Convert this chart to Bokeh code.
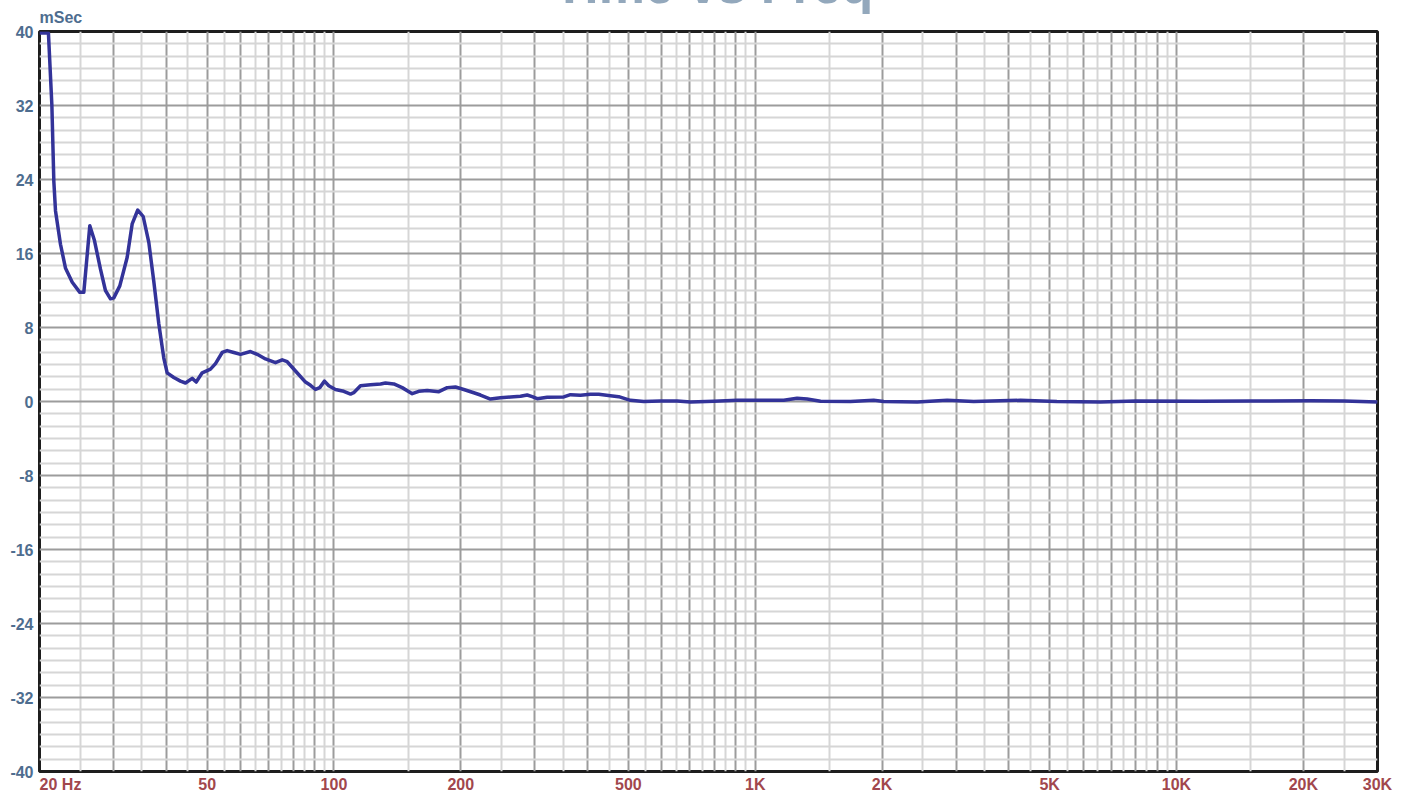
from bokeh.plotting import figure
from bokeh.models import FixedTicker, Range1d, Title
from bokeh.embed import file_html
from bokeh.resources import INLINE

# ---- data (frequency in Hz, group delay in mSec) ----
freq_hz = [20.0, 21.0, 21.4, 21.63, 21.83, 22.43, 23.06, 23.92, 24.93, 25.48,
           26.33, 27.01, 27.91, 28.68, 29.48, 30.02, 31.02, 32.30, 33.19, 34.22,
           35.25, 36.35, 37.35, 38.39, 39.45, 40.19, 41.67, 43.22, 44.42, 46.08,
           47.10, 48.67, 50.92, 52.34, 54.29, 55.79, 57.84, 60.0, 63.36, 65.73,
           68.78, 72.64, 75.36, 77.44, 81.04, 85.59, 87.96, 90.39, 92.54, 94.95,
           97.21, 100.8, 105.5, 109.5, 111.4, 115.6, 122.1, 129.0, 132.5, 138.7,
           145.2, 153.4, 159.0, 166.5, 177.4, 185.7, 194.3, 203.3, 214.7, 222.7,
           235.2, 248.5, 262.4, 277.2, 287.5, 295.5, 303.7, 320.7, 351.2, 364.3,
           384.7, 406.3, 425.2, 453.2, 474.2, 505.5, 543.7, 595.7, 652.7, 702.0,
           797.2, 906.0, 1169, 1257, 1328, 1429, 1683, 1911, 2019, 2423,
           2855, 3300, 4262, 5200, 6598, 8000, 11398, 15000, 20788, 25000, 30000]
delay_ms = [39.85, 39.85, 32.0, 23.8, 20.6, 17.0, 14.4, 12.9, 11.8, 11.8,
            19.0, 17.4, 14.3, 12.0, 11.1, 11.2, 12.5, 15.6, 19.2, 20.7,
            20.0, 17.2, 13.0, 8.4, 4.7, 3.1, 2.6, 2.2, 2.0, 2.5,
            2.1, 3.1, 3.5, 4.1, 5.3, 5.5, 5.3, 5.1, 5.4, 5.1,
            4.6, 4.2, 4.5, 4.3, 3.3, 2.1, 1.75, 1.3, 1.5, 2.2,
            1.7, 1.3, 1.1, 0.8, 0.95, 1.7, 1.8, 1.9, 2.0, 1.9,
            1.5, 0.85, 1.1, 1.2, 1.06, 1.5, 1.57, 1.3, 0.95, 0.7,
            0.27, 0.41, 0.49, 0.56, 0.7, 0.52, 0.3, 0.45, 0.49, 0.74,
            0.67, 0.78, 0.78, 0.63, 0.52, 0.13, 0.0, 0.05, 0.05, -0.05,
            0.02, 0.13, 0.13, 0.35, 0.27, 0.02, 0.0, 0.13, 0.0, -0.05,
            0.13, 0.0, 0.13, 0.0, -0.05, 0.05, 0.02, 0.05, 0.09, 0.05, -0.05]

# "20 Hz" sits a little right of the 20 Hz edge in the reference
x_tick_values = [22.43, 50, 100, 200, 500, 1000, 2000, 5000, 10000, 20000, 30000]
x_tick_labels = ["20 Hz", "50", "100", "200", "500", "1K", "2K", "5K", "10K", "20K", "30K"]
y_tick_values = [-40, -32, -24, -16, -8, 0, 8, 16, 24, 32, 40]
y_tick_labels = ["-40", "-32", "-24", "-16", "-8", "0", "8", "16", "24", "32", "40"]
title_text = "Time vs Freq"
y_unit_text = "mSec"

# ---- grid positions ----
x_grid_major = [m * 10 ** k for k in range(1, 5) for m in range(1, 10)
                if 20 <= m * 10 ** k <= 30000]
x_grid_minor = [(m + 0.5) * 10 ** k for k in range(1, 5) for m in range(1, 10)
                if 20 < (m + 0.5) * 10 ** k < 30000]
y_grid_minor = [-40 + i * 8 / 6 for i in range(61) if i % 6 != 0]

FONT = "Liberation Sans"
Y_COLOR = "#4e6d8f"
X_COLOR = "#a1474d"
SHIFT = 35  # the page shows the canvas from this many px down (title is cut off)

p = figure(width=1415, height=796 + SHIFT, x_axis_type="log",
           x_range=Range1d(20, 30000), y_range=Range1d(-40, 40),
           output_backend="svg", toolbar_location=None,
           min_border_left=39, min_border_right=38,
           min_border_top=31 + SHIFT, min_border_bottom=25)
p.styles = {"margin-top": f"-{SHIFT}px"}
p.background_fill_color = "white"
p.border_fill_color = "white"
p.outline_line_color = "#1e1e1e"
p.outline_line_width = 3
p.outline_line_alpha = 1.0

# axes
p.xaxis.ticker = FixedTicker(ticks=x_tick_values, minor_ticks=[])
p.xaxis.major_label_overrides = dict(zip(x_tick_values, x_tick_labels))
p.yaxis.ticker = FixedTicker(ticks=y_tick_values, minor_ticks=[])
p.yaxis.major_label_overrides = dict(zip(y_tick_values, y_tick_labels))
for ax, col, so in ((p.xaxis, X_COLOR, 4), (p.yaxis, Y_COLOR, 6)):
    ax.axis_line_color = None
    ax.major_tick_line_color = None
    ax.minor_tick_line_color = None
    ax.major_tick_out = 0
    ax.major_tick_in = 0
    ax.minor_tick_out = 0
    ax.minor_tick_in = 0
    ax.major_label_text_font = FONT
    ax.major_label_text_font_style = "bold"
    ax.major_label_text_font_size = "16px"
    ax.major_label_text_color = col
    ax.major_label_standoff = so

# grids
p.xgrid.ticker = FixedTicker(ticks=x_grid_major, minor_ticks=x_grid_minor)
p.ygrid.ticker = FixedTicker(ticks=y_tick_values, minor_ticks=y_grid_minor)
for g in (p.xgrid, p.ygrid):
    g.grid_line_color = "#9c9c9c"
    g.grid_line_width = 2
    g.minor_grid_line_color = "#d6d6d6"
    g.minor_grid_line_width = 2

p.line(freq_hz, delay_ms, line_color="#333399", line_width=3.5, line_join="round")

# unit label just above the plot, then the big (mostly cut-off) title above it
p.add_layout(Title(text=y_unit_text, align="left", offset=0, standoff=11,
                   text_font=FONT, text_font_style="bold",
                   text_font_size="16px", text_color=Y_COLOR), "above")
p.add_layout(Title(text=title_text, align="left", offset=514, standoff=-25,
                   text_font=FONT, text_font_style="bold",
                   text_font_size="52px", text_color="#93a8bc"), "above")

open("out.html", "w").write(file_html(p, INLINE))
